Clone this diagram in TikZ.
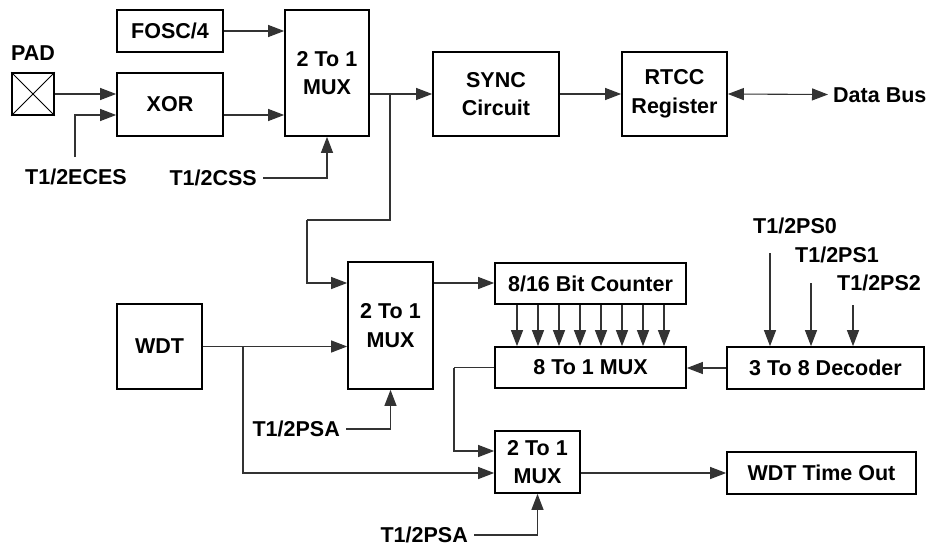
\documentclass[tikz,border=0pt]{standalone}
\usepackage{fontspec}
\setmainfont{Liberation Sans}
\usetikzlibrary{arrows.meta}
\begin{document}
\begin{tikzpicture}[x=1pt,y=-1pt,
  every node/.style={font=\fontsize{21.5}{28.5}\selectfont\bfseries},
  box/.style={draw, line width=1.7pt, inner sep=0pt, align=center},
  lbl/.style={inner sep=0pt, text height=15.4pt, text depth=0pt},
  conn/.style={line width=1.1pt, draw=black!80},
  arr/.style={conn, -{Triangle[length=16pt,width=12pt]}},
  arrboth/.style={conn, {Triangle[length=16pt,width=12pt]}-{Triangle[length=16pt,width=12pt]}},
]
\useasboundingbox (0,0) rectangle (928,546);
% boxes
\node[box, minimum width=106pt, minimum height=42pt] (fosc) at (170,31) {FOSC/4};
\node[box, minimum width=42pt, minimum height=42pt] (pad) at (33,94) {};
\node[box, minimum width=106pt, minimum height=63pt] (xor) at (170,104.5) {XOR};
\node[box, minimum width=84pt, minimum height=126pt] (mux1) at (327,73) {2 To 1\\MUX};
\node[box, minimum width=126pt, minimum height=84pt] (sync) at (496,94) {SYNC\\Circuit};
\node[box, minimum width=105pt, minimum height=84pt] (rtcc) at (674.5,94) {RTCC\\Register};
\node[box, minimum width=85pt, minimum height=85pt] (wdt) at (159.5,346.5) {WDT};
\node[box, minimum width=85pt, minimum height=127pt] (mux2) at (390.5,325.5) {2 To 1\\MUX};
\node[box, minimum width=191pt, minimum height=41pt] (cnt) at (590.5,283.5) {8/16 Bit Counter};
\node[box, minimum width=191pt, minimum height=41pt] (mux8) at (590.5,367.5) {8 To 1 MUX};
\node[box, minimum width=197pt, minimum height=42pt] (dec) at (825.5,368) {3 To 8 Decoder};
\node[box, minimum width=85pt, minimum height=62pt] (mux3) at (537.5,462) {2 To 1\\MUX};
\node[box, minimum width=189pt, minimum height=42pt] (wto) at (821.5,473) {WDT Time Out};
% pad cross
\draw[line width=1pt] (pad.north west) -- (pad.south east) (pad.south west) -- (pad.north east);
% labels
\node[lbl] (padl) at (33,52.5) {PAD};
\node[lbl] (eces) at (76,177) {T1/2ECES};
\node[lbl, anchor=east] (css) at (257,178) {T1/2CSS};
\node[lbl, anchor=west] (db) at (833,94.5) {Data Bus};
\node[lbl, anchor=east] (psa1) at (340,429) {T1/2PSA};
\node[lbl, anchor=east] (psa2) at (468,535) {T1/2PSA};
\node[lbl, anchor=west] (ps0) at (753,225.5) {T1/2PS0};
\node[lbl, anchor=west] (ps1) at (795,254.5) {T1/2PS1};
\node[lbl, anchor=west] (ps2) at (837,282.5) {T1/2PS2};
% coordinates
\coordinate (ecesTop) at (75,157);
\coordinate (b1) at (390,94);
\coordinate (b1a) at (390,220);
\coordinate (b1b) at (307,220);
\coordinate (b2) at (243,347);
\coordinate (m8a) at (454,367.5);
\coordinate (ps0s) at (770,253);
\coordinate (ps1s) at (811,283);
\coordinate (ps2s) at (853,305);
% connectors
\draw[arr] (pad.east) -- (pad.east -| xor.west);
\draw[arr] (ecesTop) |- ([yshift=-10.5pt]xor.west);
\draw[arr] (fosc.east) -- (fosc.east -| mux1.west);
\draw[arr] ([yshift=-10.5pt]xor.east) -- ([yshift=-10.5pt]xor.east -| mux1.west);
\draw[arr] ([xshift=6pt]css.east) -| (mux1.south);
\draw[arr] ([yshift=-21pt]mux1.east) -- (sync.west);
\draw[conn] (b1) -- (b1a) -- (b1b);
\draw[arr] (b1b) |- ([yshift=42.5pt]mux2.west);
\draw[arr] (sync.east) -- (rtcc.west);
\draw[arrboth] (rtcc.east) -- ([xshift=-5pt]db.west);
\draw[arr] (wdt.east) -- (wdt.east -| mux2.west);
\draw[arr] (b2) |- ([yshift=-11pt]mux3.west);
\draw[arr] ([xshift=6pt]psa1.east) -| (mux2.south);
\draw[arr] ([yshift=42.5pt]mux2.east) -- ([yshift=42.5pt]mux2.east -| cnt.west);
\foreach \i in {0,...,7} {
  \draw[arr] ([xshift={(\i-3.5)*21pt}]cnt.south) -- ([xshift={(\i-3.5)*21pt}]mux8.north);
}
\draw[arr] (dec.west) -- (dec.west -| mux8.east);
\draw[conn] (mux8.west) -- (m8a);
\draw[arr] (m8a) |- ([yshift=11pt]mux3.west);
\draw[arr] ([xshift=6pt]psa2.east) -| (mux3.south);
\draw[arr] ([yshift=-11pt]mux3.east) -- ([yshift=-11pt]mux3.east -| wto.west);
\draw[arr] (ps0s) -- (ps0s |- dec.north);
\draw[arr] (ps1s) -- (ps1s |- dec.north);
\draw[arr] (ps2s) -- (ps2s |- dec.north);
\end{tikzpicture}
\end{document}
